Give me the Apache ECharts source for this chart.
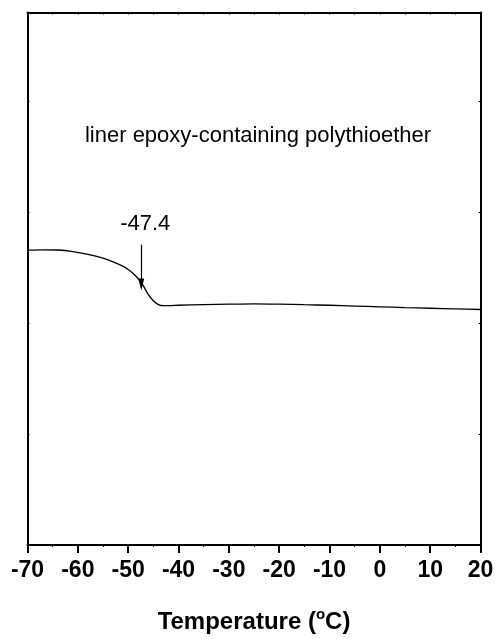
<!DOCTYPE html>
<html>
<head>
<meta charset="utf-8">
<script src="https://cdn.jsdelivr.net/npm/echarts@6/dist/echarts.min.js"></script>
<style>
  html, body { margin: 0; padding: 0; background: #fff; }
  #chart { width: 499px; height: 639px; }
</style>
</head>
<body>
<div id="chart"></div>
<script>
// DSC trace: temperature (°C) vs. heat flow (arbitrary units)
const temperature = [-70, -67, -64, -61, -58, -55, -53, -51, -50, -49, -48, -47, -46, -45, -44, -43, -42, -40, -35, -30, -25, -20, -15, -10, -5, 0, 5, 10, 15, 20];
const heatFlow    = [2.658, 2.661, 2.659, 2.645, 2.620, 2.585, 2.552, 2.512, 2.484, 2.448, 2.400, 2.338, 2.256, 2.201, 2.167, 2.157, 2.157, 2.161, 2.167, 2.171, 2.174, 2.171, 2.166, 2.161, 2.154, 2.147, 2.140, 2.134, 2.129, 2.123];

const xTicks = [-70, -60, -50, -40, -30, -20, -10, 0, 10, 20];

// Glass transition marker
const tgValue = -47.4;
const tgArrowTop = 2.708;
const tgArrowTip = 2.348;
const tgLabelLevel = 2.893;

const sampleName = 'liner epoxy-containing polythioether';

const chart = echarts.init(document.getElementById('chart'), null, { renderer: 'canvas' });

const frame = { lineStyle: { color: '#000', width: 2 } };

chart.setOption({
  animation: false,
  backgroundColor: '#fff',
  grid: { left: 27.5, right: 18.5, top: 12.5, bottom: 89, containLabel: false },
  xAxis: [
    {
      type: 'value', position: 'bottom',
      min: xTicks[0], max: xTicks[xTicks.length - 1], interval: 10,
      axisLine: { show: true, onZero: false, ...frame },
      axisTick: { show: true, inside: false, length: 8, lineStyle: { color: '#000', width: 2 } },
      minorTick: { show: true, splitNumber: 2, length: 2, lineStyle: { color: '#000', width: 1 } },
      splitLine: { show: false },
      axisLabel: {
        show: true, margin: 14, color: '#000',
        fontFamily: '"Liberation Sans", Arial, sans-serif',
        fontWeight: 'bold', fontSize: 23,
        formatter: v => String(v)
      },
      name: '{t|Temperature (}{s|o}{t|C)}',
      nameLocation: 'middle', nameGap: 62,
      nameTextStyle: {
        rich: {
          t: { fontFamily: '"Liberation Sans", Arial, sans-serif', fontWeight: 'bold', fontSize: 24, color: '#000', lineHeight: 30 },
          s: { fontFamily: '"Liberation Sans", Arial, sans-serif', fontWeight: 'bold', fontSize: 15, color: '#000', verticalAlign: 'top', lineHeight: 30, padding: [0, 0, 10, 0] }
        }
      }
    },
    {
      type: 'value', position: 'top',
      min: xTicks[0], max: xTicks[xTicks.length - 1], interval: 5,
      axisLine: { show: true, onZero: false, ...frame },
      axisTick: { show: true, inside: true, length: 2, lineStyle: { color: '#000', width: 1 } },
      axisLabel: { show: false },
      splitLine: { show: false }
    }
  ],
  yAxis: [
    {
      type: 'value', position: 'left',
      min: 0, max: 4.8, interval: 1,
      axisLine: { show: true, onZero: false, ...frame },
      axisTick: { show: true, inside: true, length: 2, lineStyle: { color: '#000', width: 1 } },
      axisLabel: { show: false },
      splitLine: { show: false }
    },
    {
      type: 'value', position: 'right',
      min: 0, max: 4.8, interval: 1,
      axisLine: { show: true, onZero: false, ...frame },
      axisTick: { show: true, inside: true, length: 2, lineStyle: { color: '#000', width: 1 } },
      axisLabel: { show: false },
      splitLine: { show: false }
    }
  ],
  series: [
    {
      type: 'line',
      xAxisIndex: 0, yAxisIndex: 0,
      data: temperature.map((t, i) => [t, heatFlow[i]]),
      smooth: 0.25,
      showSymbol: false,
      lineStyle: { color: '#000', width: 1.3 },
      markLine: {
        silent: true,
        symbol: ['none', 'triangle'],
        symbolSize: [6, 12],
        label: { show: false },
        lineStyle: { color: '#000', width: 1.2, type: 'solid' },
        data: [[{ coord: [tgValue, tgArrowTop] }, { coord: [tgValue, tgArrowTip] }]]
      }
    },
    {
      type: 'scatter',
      xAxisIndex: 0, yAxisIndex: 0,
      data: [[tgValue, tgLabelLevel]],
      symbolSize: 0,
      silent: true,
      itemStyle: { opacity: 1, color: '#000' },
      label: {
        show: true, position: 'inside', offset: [4, 0],
        formatter: p => String(p.value[0]),
        fontFamily: '"Liberation Sans", Arial, sans-serif',
        fontSize: 22, color: '#000', opacity: 1,
        textBorderWidth: 0
      }
    }
  ],
  graphic: [
    {
      type: 'text',
      x: 258, y: 136,
      style: {
        text: sampleName,
        fill: '#000',
        font: '22px "Liberation Sans", Arial, sans-serif',
        textAlign: 'center', textVerticalAlign: 'middle'
      }
    }
  ]
});
</script>
</body>
</html>
